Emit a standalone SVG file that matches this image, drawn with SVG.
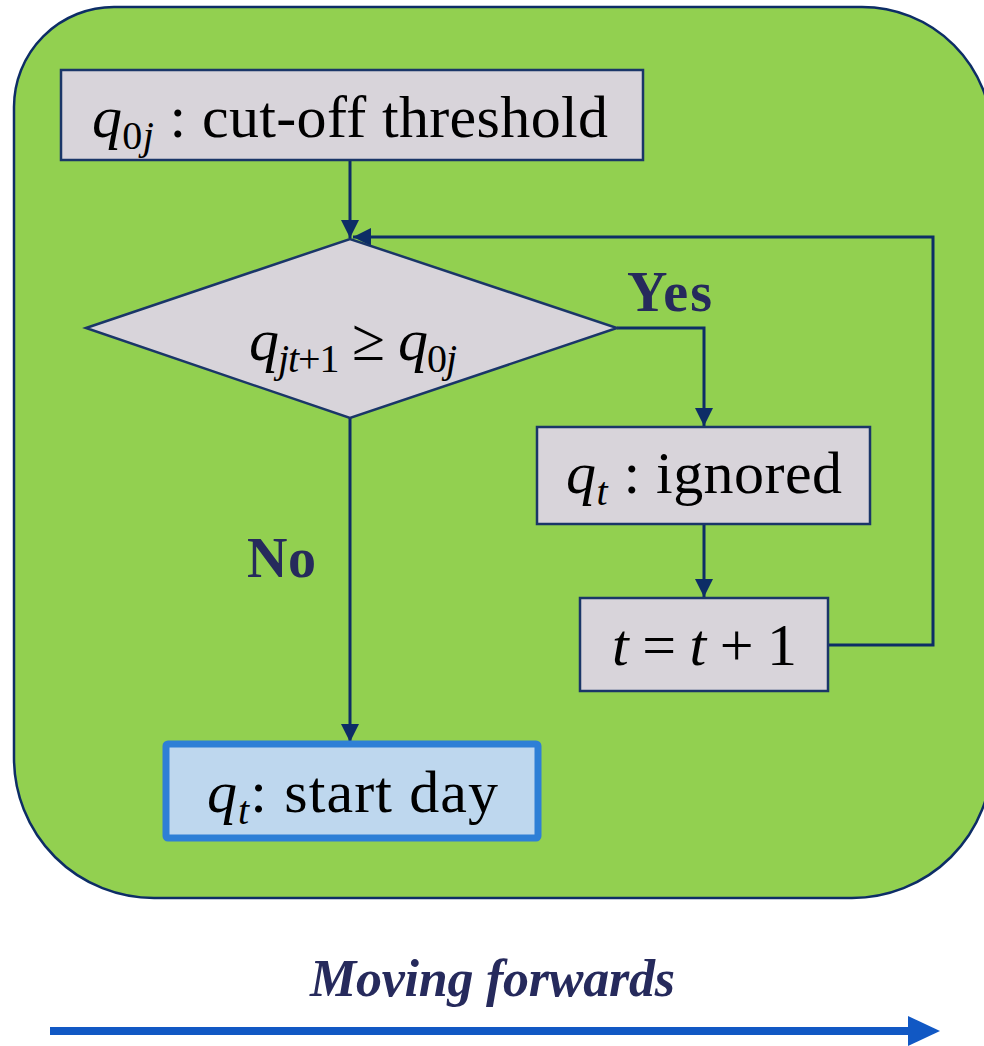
<svg xmlns="http://www.w3.org/2000/svg" width="984" height="1046" viewBox="0 0 984 1046">
<defs>
<style>
.node{fill:#d8d4da;stroke:#1a3668;stroke-width:2.5}
.t{font-family:"Liberation Serif","DejaVu Serif",serif;font-size:60px;fill:#000}
.m{font-style:italic}
.sub{font-size:40px}
.lbl{font-family:"Liberation Serif","DejaVu Serif",serif;font-weight:bold;font-size:56px;fill:#262a5c}
.c{fill:none;stroke:#0d2d66;stroke-width:3}
</style>
<marker id="ah" viewBox="0 0 10 10" refX="10" refY="5" markerWidth="6" markerHeight="6" orient="auto" markerUnits="strokeWidth">
<path d="M0,0 L10,5 L0,10 Z" fill="#0d2d66"/>
</marker>
</defs>
<rect width="984" height="1046" fill="#ffffff"/>
<g id="container">
<path d="M114,7 H862 A130,130 0 0 1 992,137 V758 A140,140 0 0 1 852,898 H154 A140,140 0 0 1 14,758 V107 A100,100 0 0 1 114,7 Z" fill="#92d050" stroke="#0d2d66" stroke-width="2.5"/>
</g>
<g id="connectors">
<path class="c" d="M350,160 V238" marker-end="url(#ah)"/>
<path class="c" d="M828,645 H933 V237 H353" marker-end="url(#ah)"/>
<path class="c" d="M617,328 H704 V426" marker-end="url(#ah)"/>
<path class="c" d="M704,524 V597" marker-end="url(#ah)"/>
<path class="c" d="M350,418 V742" marker-end="url(#ah)"/>
</g>
<g id="n-threshold">
<rect class="node" x="61" y="70" width="582" height="90"/>
<text class="t" x="92" y="137" textLength="516" lengthAdjust="spacing"><tspan class="m">q</tspan><tspan class="sub" dy="12">0<tspan class="m">j</tspan></tspan><tspan dy="-12"> : cut-off threshold</tspan></text>
</g>
<g id="n-decision">
<polygon class="node" points="86,328 350,239 617,328 350,418"/>
<text class="t" x="249" y="360" textLength="208" lengthAdjust="spacing"><tspan class="m">q</tspan><tspan class="sub" dy="12"><tspan class="m">jt</tspan>+1</tspan><tspan dy="-12"> ≥ </tspan><tspan class="m">q</tspan><tspan class="sub" dy="12">0<tspan class="m">j</tspan></tspan></text>
</g>
<g id="n-ignored">
<rect class="node" x="537" y="427" width="333" height="97"/>
<text class="t" x="566" y="493" textLength="276" lengthAdjust="spacing"><tspan class="m">q</tspan><tspan class="sub m" dy="12">t</tspan><tspan dy="-12"> : ignored</tspan></text>
</g>
<g id="n-increment">
<rect class="node" x="580" y="598" width="248" height="93"/>
<text class="t" x="612" y="665" textLength="185" lengthAdjust="spacing"><tspan class="m">t</tspan> = <tspan class="m">t</tspan> + 1</text>
</g>
<g id="n-start">
<rect x="166" y="744" width="372" height="94" fill="#bed7ee" stroke="#2e7fd6" stroke-width="7" rx="2"/>
<text class="t" x="207" y="812" textLength="291" lengthAdjust="spacing"><tspan class="m">q</tspan><tspan class="sub m" dy="12">t</tspan><tspan dy="-12">: start day</tspan></text>
</g>
<g id="labels">
<text class="lbl" x="627" y="311" textLength="85" lengthAdjust="spacing">Yes</text>
<text class="lbl" x="247" y="577" textLength="69" lengthAdjust="spacing">No</text>
</g>
<g id="footer">
<text x="310" y="996" font-family="Liberation Serif, DejaVu Serif, serif" font-style="italic" font-weight="bold" font-size="52" fill="#262a5c" textLength="365" lengthAdjust="spacing">Moving forwards</text>
<line x1="50" y1="1031" x2="912" y2="1031" stroke="#1158c4" stroke-width="8"/>
<polygon points="908,1016 940,1031 908,1046" fill="#1158c4"/>
</g>
</svg>
